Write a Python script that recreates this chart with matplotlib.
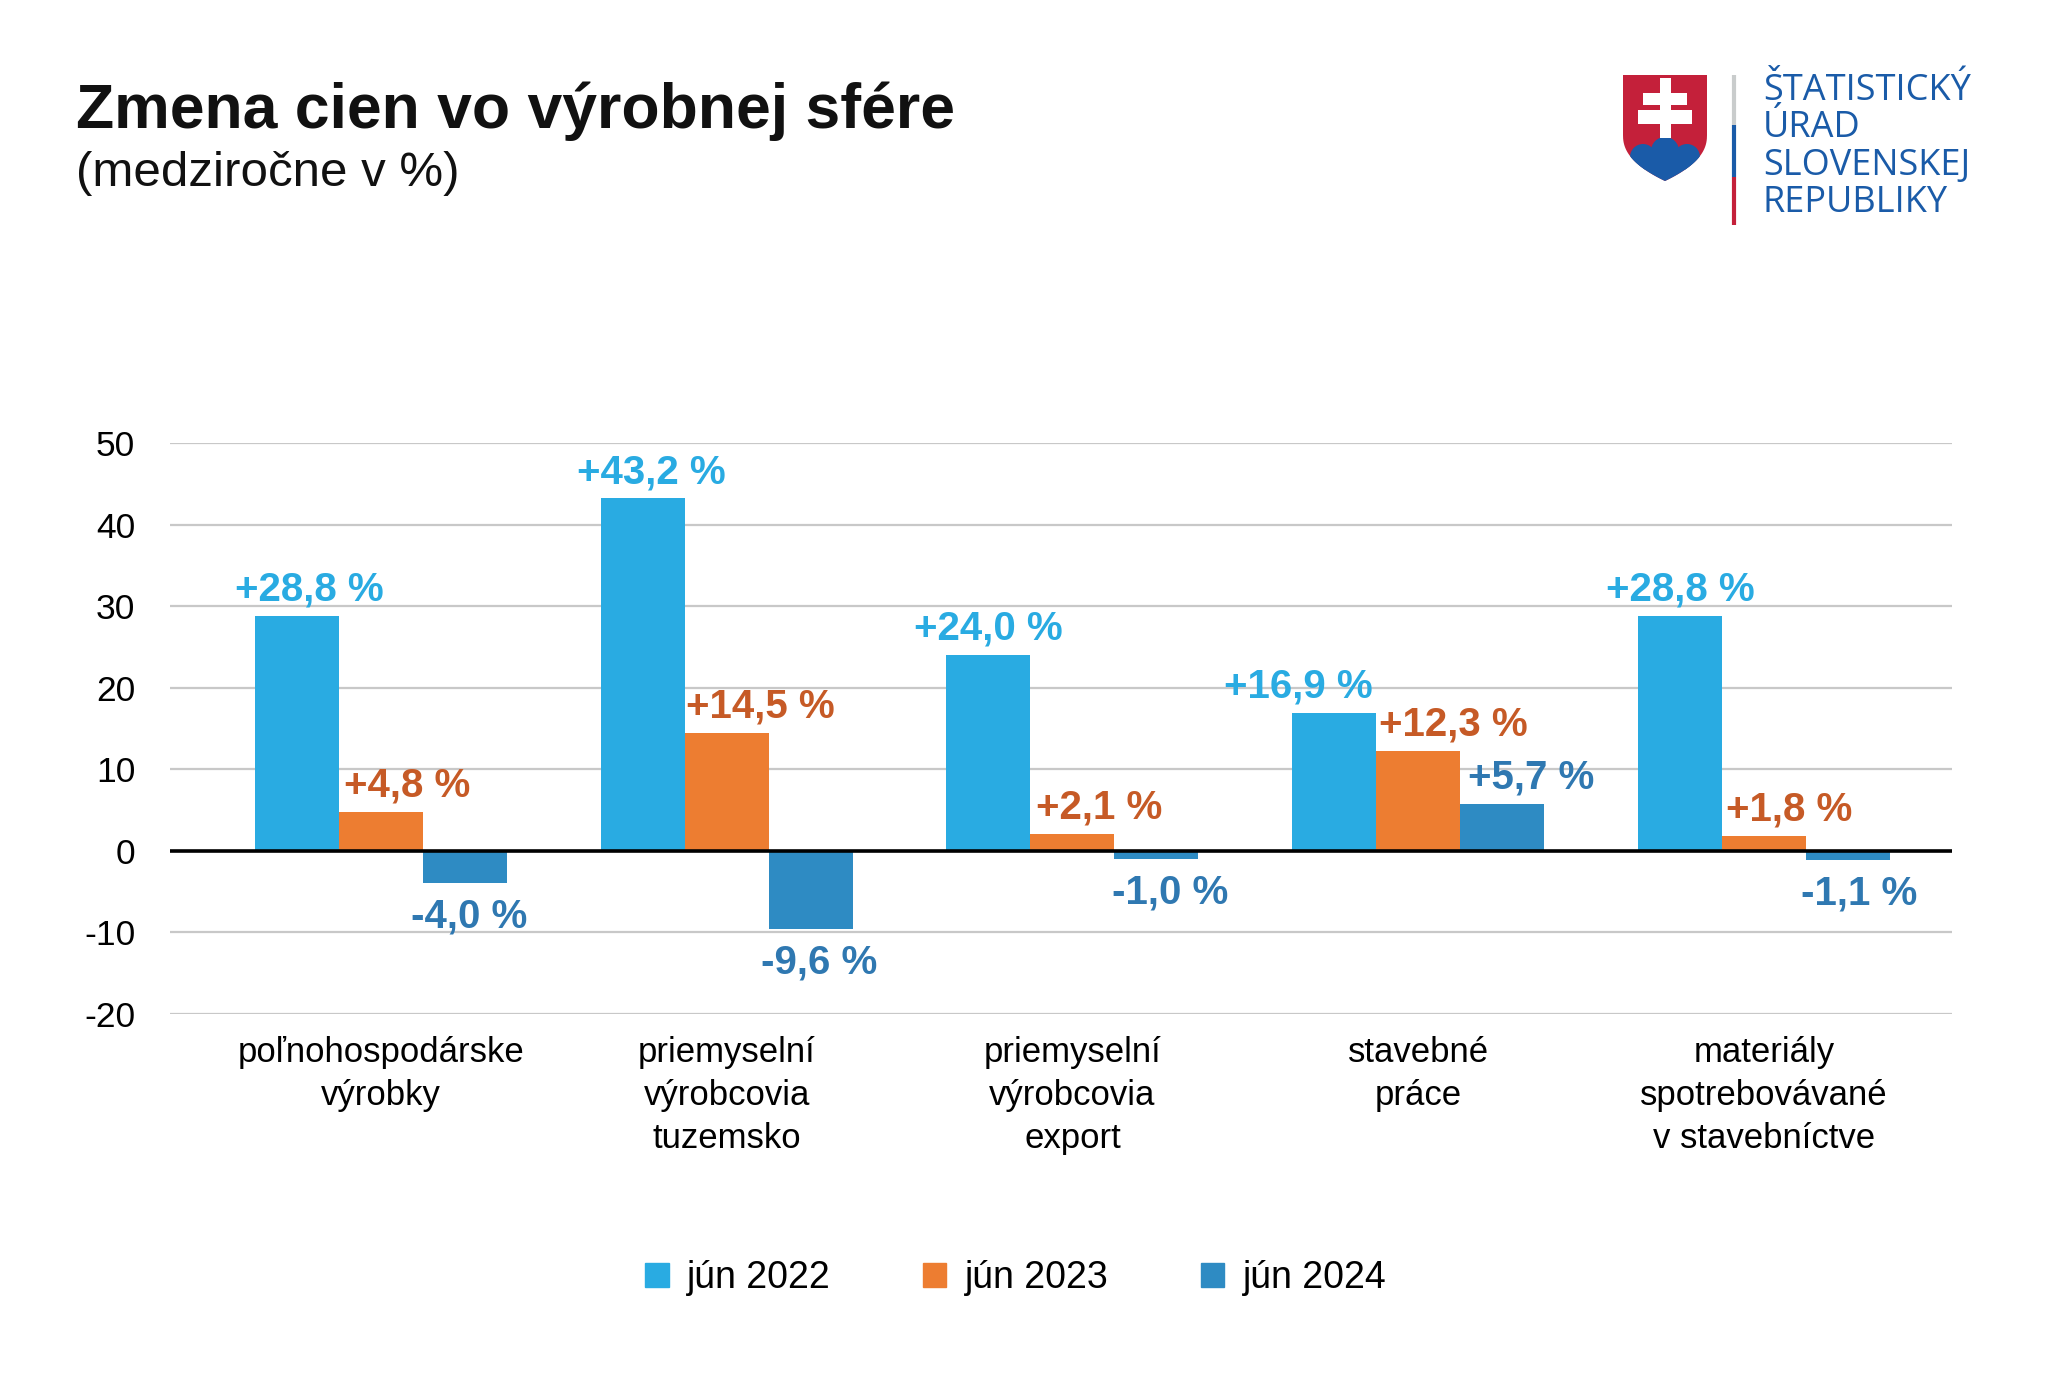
import matplotlib
matplotlib.use("Agg")
import matplotlib.pyplot as plt
import numpy as np
from matplotlib.patches import Polygon, Rectangle, Circle

# ---------------- data ----------------
categories = ["poľnohospodárske\nvýrobky",
              "priemyselní\nvýrobcovia\ntuzemsko",
              "priemyselní\nvýrobcovia\nexport",
              "stavebné\npráce",
              "materiály\nspotrebovávané\nv stavebníctve"]
series_names = ["jún 2022", "jún 2023", "jún 2024"]
jun2022 = [28.8, 43.2, 24.0, 16.9, 28.8]
jun2023 = [4.8, 14.5, 2.1, 12.3, 1.8]
jun2024 = [-4.0, -9.6, -1.0, 5.7, -1.1]
yticks = [-20, -10, 0, 10, 20, 30, 40, 50]

# ---------------- style ----------------
plt.rcParams["font.family"] = ["Liberation Sans", "DejaVu Sans"]
plt.rcParams["axes.unicode_minus"] = False

bar_colors = ["#29ABE2", "#ED7D31", "#2E8BC3"]
label_colors = ["#29ABE2", "#C65A26", "#2F78B1"]
# horizontal nudges of value labels (points), per series and category
label_dx = [[9, 6, 0, -26, 0],
            [19, 24, 19, 25, 18],
            [3, 6, 10, 21, 8]]

W, H = 2048, 1375
fig = plt.figure(figsize=(W / 100, H / 100), dpi=100)
fig.patch.set_facecolor("white")

ax = fig.add_axes([170 / W, 1 - 1014 / H, (1952 - 170) / W, (1014 - 443) / H])
x = np.arange(len(categories))
w = 0.243
series = [jun2022, jun2023, jun2024]
for i, vals in enumerate(series):
    xs = x + (i - 1) * w
    ax.bar(xs, vals, width=w, color=bar_colors[i], zorder=3, label=series_names[i])
    for j, (xx, v) in enumerate(zip(xs, vals)):
        txt = ("+" if v > 0 else "") + f"{v:.1f}".replace(".", ",") + " %"
        dy = 19 if v >= 0 else -24
        ax.annotate(txt, (xx, v), xytext=(label_dx[i][j], dy), textcoords="offset points",
                    ha="center", va="center", fontsize=29, fontweight="bold",
                    color=label_colors[i], zorder=5)

ax.set_xlim(-0.61, 4.544)
ax.set_ylim(-20, 50)
ax.set_yticks(yticks)
ax.set_yticklabels([str(t) for t in yticks], fontsize=25.5)
ax.set_xticks(x)
ax.set_xticklabels(categories, fontsize=25, linespacing=1.38, va="top")
ax.tick_params(axis="both", length=0)
ax.tick_params(axis="y", pad=25)
ax.tick_params(axis="x", pad=16)
ax.grid(axis="y", color="#C8C8C8", linewidth=1.6, zorder=0)
ax.axhline(0, color="black", linewidth=2.6, zorder=4)
for s in ax.spines.values():
    s.set_visible(False)

handles = [Rectangle((0, 0), 1, 1, color=c) for c in bar_colors]
fig.legend(handles, series_names, loc="center", bbox_to_anchor=(0.496, 1 - 1278 / H),
           ncol=3, frameon=False, fontsize=27, handlelength=0.62, handleheight=0.62,
           handletextpad=0.5, columnspacing=2.45)

# ---------------- title ----------------
fig.text(76 / W, 1 - 128 / H, "Zmena cien vo výrobnej sfére", fontsize=45,
         fontweight="bold", color="#111111", ha="left", va="baseline")
fig.text(76 / W, 1 - 186 / H, "(medziročne v %)", fontsize=35.5,
         color="#111111", ha="left", va="baseline")

# ---------------- logo ----------------
ov = fig.add_axes([0, 0, 1, 1], zorder=-1)
ov.set_xlim(0, W)
ov.set_ylim(H, 0)
ov.axis("off")
red = "#C4203A"
blue = "#1A5BA8"
t = np.linspace(0, 1, 40)
right_curve = [(1707 - 42 * tt ** 1.6, 135 + 46 * tt ** 0.7) for tt in t]
left_curve = [(1623 + 42 * tt ** 1.6, 135 + 46 * tt ** 0.7) for tt in t[::-1]]
shield = [(1623, 75), (1707, 75), (1707, 135)] + right_curve + left_curve + [(1623, 135)]
ov.add_patch(Polygon(shield, closed=True, facecolor=red, edgecolor="none"))
clip = Polygon(shield, closed=True, transform=ov.transData, facecolor="none", edgecolor="none")
ov.add_patch(clip)
for m in [Circle((1643, 157), 13), Circle((1665, 151), 14), Circle((1687, 157), 13),
          Rectangle((1615, 157), 100, 40)]:
    m.set_facecolor(blue)
    m.set_edgecolor("none")
    ov.add_patch(m)
    m.set_clip_path(clip)
for rx, ry, rw, rh in [(1659.5, 78, 11, 60), (1643, 93, 44, 12), (1638, 110, 54, 14)]:
    ov.add_patch(Rectangle((rx, ry), rw, rh, facecolor="white", edgecolor="none"))
ov.plot([1734, 1734], [75, 125], color="#C9CCCC", linewidth=3, solid_capstyle="butt")
ov.plot([1734, 1734], [125, 177], color=blue, linewidth=3, solid_capstyle="butt")
ov.plot([1734, 1734], [177, 225], color=red, linewidth=3, solid_capstyle="butt")
for k, line in enumerate(["ŠTATISTICKÝ", "ÚRAD", "SLOVENSKEJ", "REPUBLIKY"]):
    ov.text(1763, 100 + k * 37.3, line, fontsize=26, color=blue,
            family=["Open Sans", "DejaVu Sans"], ha="left", va="baseline")

fig.savefig("out.png", dpi=100, facecolor="white")
